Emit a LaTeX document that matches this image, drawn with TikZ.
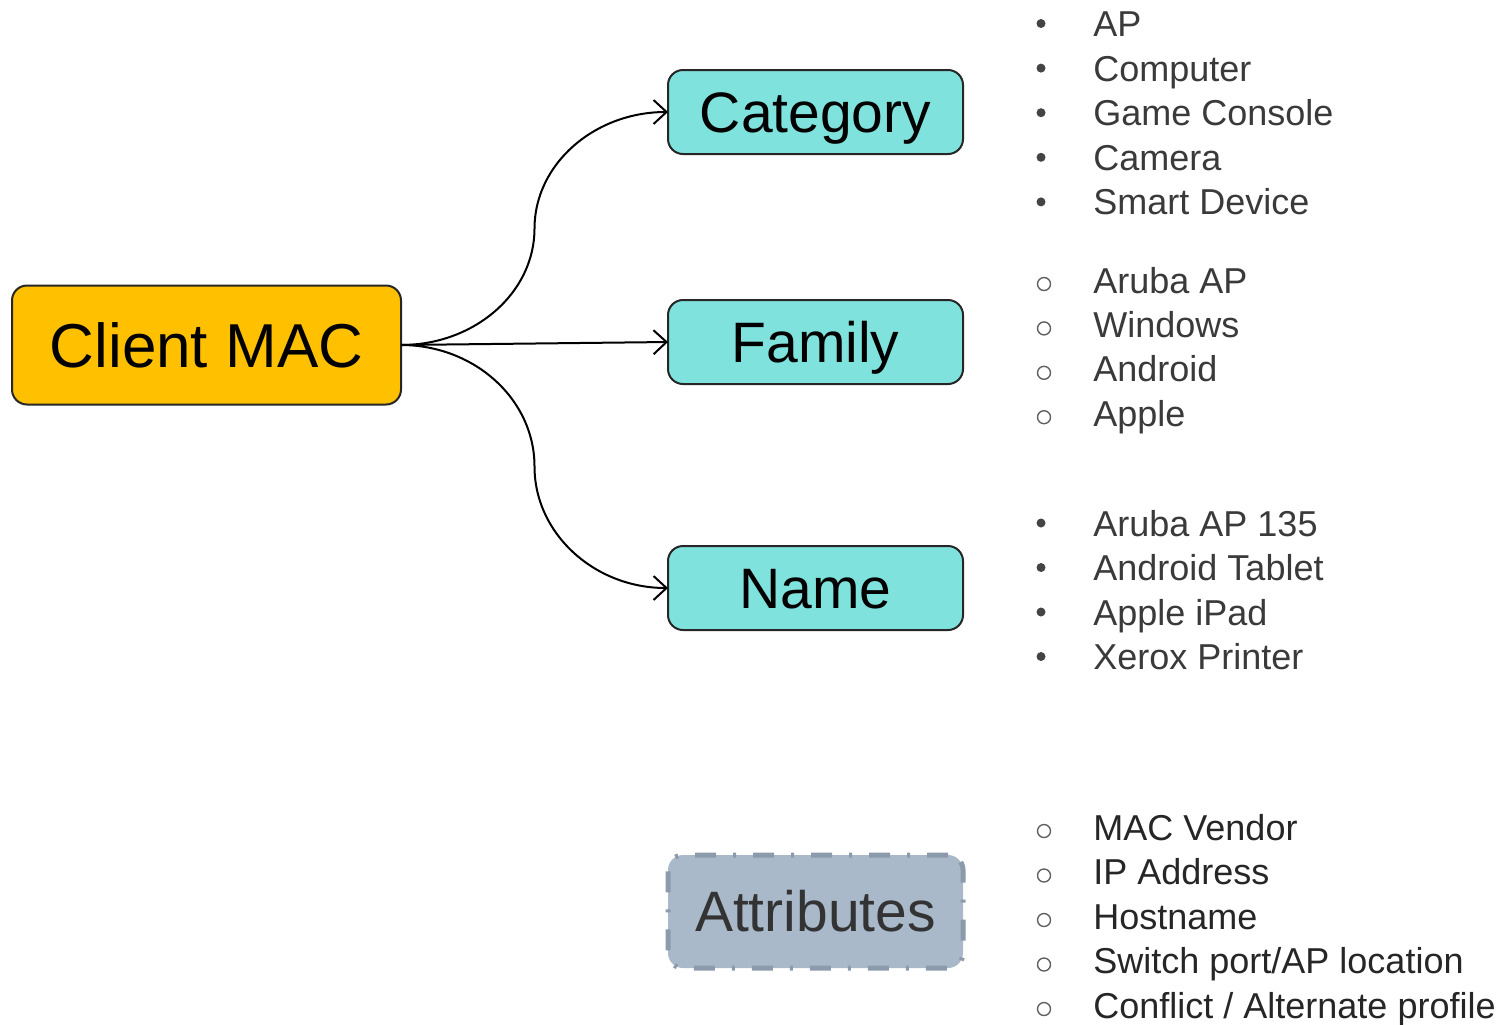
\documentclass[tikz,border=0pt]{standalone}
\usepackage{fontspec}
\setmainfont{Liberation Sans}
\usetikzlibrary{arrows.meta}
\definecolor{macfill}{HTML}{FFC000}
\definecolor{cyanfill}{HTML}{80E2DD}
\definecolor{attrfill}{HTML}{A9B9C9}
\definecolor{attrline}{HTML}{8B9BAB}
\definecolor{listtext}{HTML}{3A3A3A}
\definecolor{bulletcol}{HTML}{444444}
\tikzset{
  mainbox/.style={draw=black!85, line width=1pt, rounded corners=7.5pt, outer sep=0pt,
    align=center, text depth=0pt, inner sep=0pt},
  macbox/.style={mainbox, fill=macfill, minimum width=194.5pt, minimum height=59.5pt,
    text height=22.2pt, font=\fontsize{31}{36}\selectfont},
  typebox/.style={mainbox, fill=cyanfill, minimum width=147.5pt, minimum height=42pt,
    text height=20.4pt, font=\fontsize{28.5}{33}\selectfont},
  attrbox/.style={mainbox, draw=attrline, fill=attrfill, line width=2.5pt,
    dash pattern=on 10.5pt off 8.5pt on 1.5pt off 8.5pt, text=black!80, text height=20.4pt,
    minimum width=147.5pt, minimum height=56.5pt, font=\fontsize{28.5}{33}\selectfont},
  item/.style={anchor=base west, inner sep=0pt, text=listtext, font=\fontsize{18}{21}\selectfont},
  arr/.style={line width=1pt, -{Straight Barb[length=6.5pt,width=12pt,line width=1pt]}},
  dotb/.style={fill=bulletcol, draw=none},
  ringb/.style={draw=bulletcol!85, line width=0.7pt, fill=none}
}
\begin{document}
\begin{tikzpicture}[x=0.5pt,y=-0.5pt]
\useasboundingbox (0,0) rectangle (1507,1024);

\node[macbox] (mac) at (206.5,345) {Client MAC};
\node[typebox] (cat) at (815.5,112) {Category};
\node[typebox] (fam) at (815.5,342) {Family};
\node[typebox] (nam) at (815.5,588) {Name};
\node[attrbox] (att) at (815.5,911.5) {Attributes};

\coordinate (m1) at (534.5,228.5);
\coordinate (m2) at (534.5,466.5);
\draw[arr] (mac.east) .. controls +(73.7,0) and +(0,64.3) .. (m1)
  .. controls +(0,-64.3) and +(-73.7,0) .. (cat.west);
\draw[arr] (mac.east) -- (fam.west);
\draw[arr] (mac.east) .. controls +(73.7,0) and +(0,-67) .. (m2)
  .. controls +(0,67) and +(-73.7,0) .. (nam.west);

% Category list
\foreach \t [count=\i] in {AP,Computer,Game Console,Camera,Smart Device}{
  \pgfmathsetmacro{\b}{36.5+44.6*(\i-1)}
  \node[item] (c\i) at (1093,\b) {\t};
  \fill[dotb] (1041,\b-13) circle (4.5);
}
% Family list
\foreach \t [count=\i] in {Aruba AP,Windows,Android,Apple}{
  \pgfmathsetmacro{\b}{293+44.4*(\i-1)}
  \node[item] (f\i) at (1093,\b) {\t};
  \draw[ringb] (1044,\b-9) circle (6.5);
}
% Name list
\foreach \t [count=\i] in {Aruba AP 135,Android Tablet,Apple iPad,Xerox Printer}{
  \pgfmathsetmacro{\b}{536+44.5*(\i-1)}
  \node[item] (n\i) at (1093,\b) {\t};
  \fill[dotb] (1041,\b-13) circle (4.5);
}
% Attributes list
\foreach \t [count=\i] in {MAC Vendor,IP Address,Hostname,Switch port/AP location,Conflict / Alternate profile}{
  \pgfmathsetmacro{\b}{840+44.5*(\i-1)}
  \node[item, text=black!85] (a\i) at (1093,\b) {\t};
  \draw[ringb] (1044,\b-9) circle (6.5);
}
\end{tikzpicture}
\end{document}
